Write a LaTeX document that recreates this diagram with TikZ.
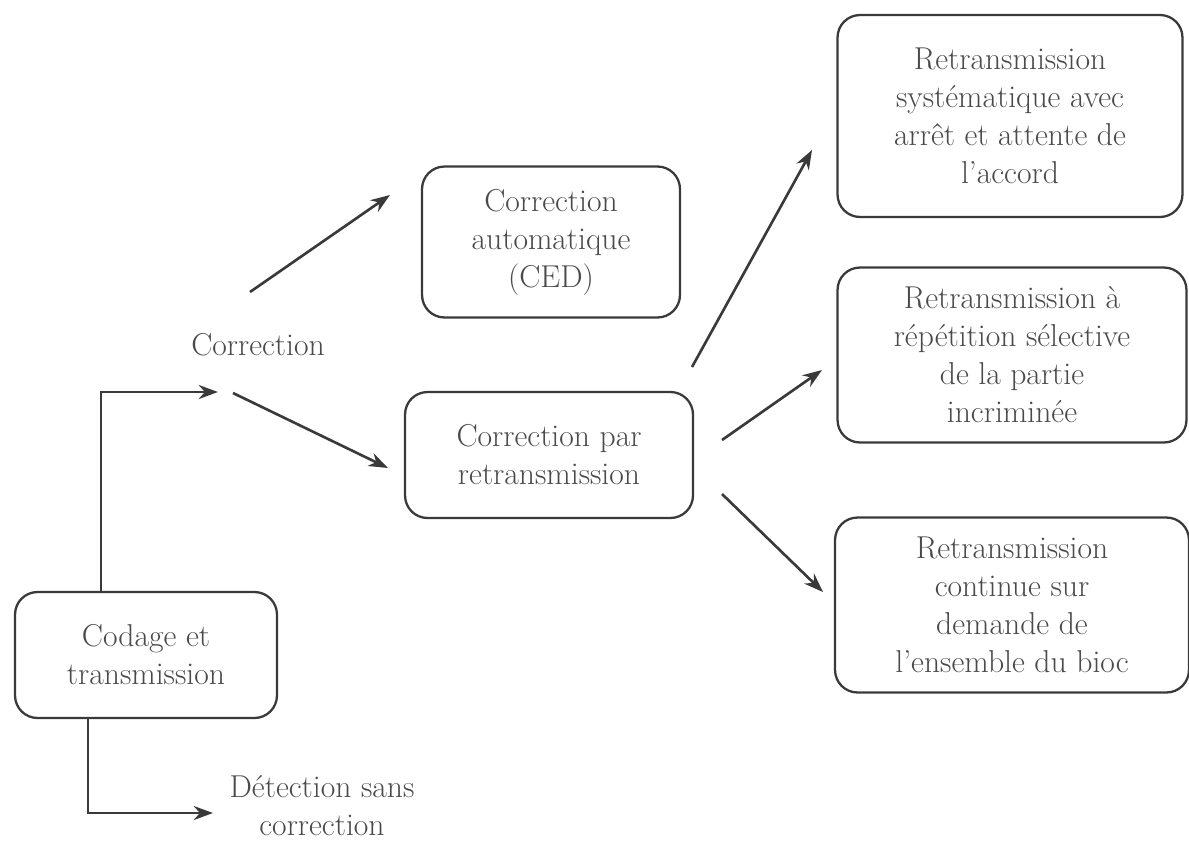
\documentclass[tikz,border=0pt]{standalone}
\usepackage{tikz}
\usetikzlibrary{arrows.meta,calc}
\definecolor{inkgray}{HTML}{3A3A3A}
\definecolor{textgray}{HTML}{4A4A4A}

\begin{document}
\begin{tikzpicture}[x=0.02cm,y=-0.02cm,
    box/.style={draw=inkgray,line width=1.3pt,rounded corners=0.45cm,align=center,
      text=textgray,inner sep=0pt,font=\fontsize{18}{21.6}\selectfont},
    lbl/.style={align=center,text=textgray,font=\fontsize{18}{21.6}\selectfont},
    arr/.style={draw=inkgray,line width=1.5pt,-{Stealth[length=11pt,width=8pt]}}]
  \useasboundingbox (0,0) rectangle (1189,842);

  % Boxes
  \node[box,minimum width=5.24cm,minimum height=2.52cm] (codage) at (146,655)
    {Codage et\\transmission};
  \node[box,minimum width=5.16cm,minimum height=3.02cm] (ced) at (551,242)
    {Correction\\automatique\\(CED)};
  \node[box,minimum width=5.76cm,minimum height=2.52cm] (retr) at (549,455)
    {Correction par\\retransmission};
  \node[box,minimum width=6.90cm,minimum height=4.04cm] (arret) at (1010,116)
    {Retransmission\\syst\'ematique avec\\arr\^et et attente de\\l'accord};
  \node[box,minimum width=6.98cm,minimum height=3.50cm] (selective) at (1012,355)
    {Retransmission \`a\\r\'ep\'etition s\'elective\\de la partie\\incrimin\'ee};
  \node[box,minimum width=7.08cm,minimum height=3.50cm] (continue) at (1012,605)
    {Retransmission\\continue sur\\demande de\\l'ensemble du bioc};

  % Labels
  \node[lbl] (corr) at (258,345) {Correction};
  \node[lbl] (detect) at (322,806) {D\'etection sans\\correction};

  % Free ends
  \coordinate (corrIn) at (218,392);
  \coordinate (corrUp) at (250,292);
  \coordinate (corrDown) at (233,393);
  \coordinate (cedIn) at (390,195);
  \coordinate (retrIn) at (388,468);
  \coordinate (retrUp) at (692,367);
  \coordinate (retrMid) at (722,440);
  \coordinate (retrLow) at (722,494);
  \coordinate (arretIn) at (812,150);
  \coordinate (selIn) at (822,370);
  \coordinate (contIn) at (823,592);
  \coordinate (detectIn) at (213,813);

  % Arrows
  \draw[arr] ($(codage.north west)!0.33!(codage.north east)$) |- (corrIn);
  \draw[arr] ($(codage.south west)!0.28!(codage.south east)$) |- (detectIn);
  \draw[arr] (corrUp) -- (cedIn);
  \draw[arr] (corrDown) -- (retrIn);
  \draw[arr] (retrUp) -- (arretIn);
  \draw[arr] (retrMid) -- (selIn);
  \draw[arr] (retrLow) -- (contIn);
\end{tikzpicture}
\end{document}
